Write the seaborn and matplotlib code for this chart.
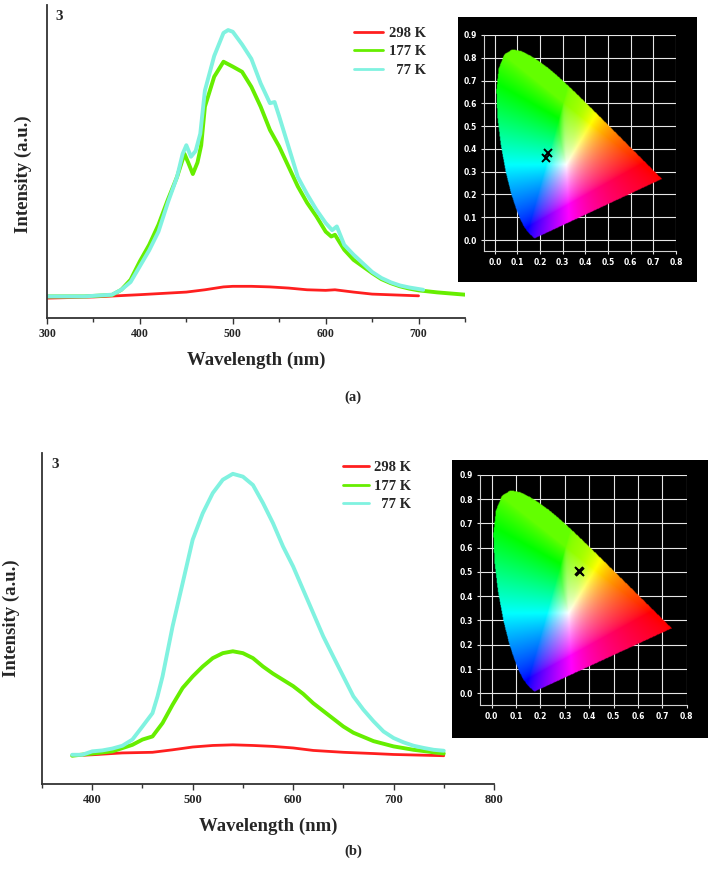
import numpy as np
import pandas as pd
import matplotlib
matplotlib.use("Agg")
import matplotlib.pyplot as plt
import seaborn as sns
from matplotlib.path import Path
from matplotlib.colors import rgb_to_hsv, hsv_to_rgb
from matplotlib.ticker import MultipleLocator

# ---- panel (a) spectra ----
wl_a_298 = [300, 350, 400, 450, 470, 490, 500, 520, 540, 560, 580, 600, 610, 630, 650, 700]
int_a_298 = [6.9, 7.3, 8.1, 9.0, 9.8, 10.8, 11.0, 11.0, 10.8, 10.4, 9.8, 9.6, 9.8, 9.0, 8.3, 7.7]

wl_a_177 = [300, 340, 370, 380, 390, 400, 410, 420, 430, 440, 448, 452, 457, 462, 466, 470,
            480, 490, 500, 510, 520, 530, 540, 550, 560, 570, 580, 590, 600, 606, 610,
            620, 630, 640, 650, 660, 670, 680, 690, 700, 720, 750]
int_a_177 = [7.5, 7.5, 8.0, 9.8, 13.3, 19.7, 25.4, 32.4, 41, 49, 57, 54, 50, 54, 60, 73.4,
             83.8, 89, 87.3, 85.5, 80.3, 73.4, 65.3, 59.5, 52.6, 45.7, 40, 35.3, 30, 28.3, 28.9,
             23.7, 20.2, 17.9, 15.6, 13.5, 12.1, 11, 10.2, 9.6, 8.9, 8.1]

wl_a_77 = [300, 340, 370, 380, 390, 400, 410, 420, 430, 440, 446, 450, 455, 460, 465, 470,
           480, 490, 495, 500, 510, 520, 530, 540, 545, 550, 560, 570, 580, 590, 600, 607, 612,
           620, 630, 640, 650, 660, 670, 680, 690, 705]
int_a_77 = [7.5, 7.5, 8.1, 9.8, 12.5, 18, 23.5, 30, 40, 49, 57, 60, 56, 58, 64, 79,
            91, 99, 100, 99.4, 95, 90, 81.5, 74.6, 75, 70, 59.5, 49, 43, 37.6, 33, 30.5, 31.8,
            25.4, 22, 19, 16, 13.9, 12.4, 11.3, 10.6, 9.8]

# ---- panel (b) spectra ----
wl_b_298 = [380, 400, 430, 460, 480, 500, 520, 540, 560, 580, 600, 620, 650, 680, 700, 750]
int_b_298 = [9.1, 9.4, 10.0, 10.2, 11.0, 11.9, 12.4, 12.6, 12.4, 12.1, 11.6, 10.8, 10.2, 9.8, 9.5, 9.1]

wl_b_177 = [380, 400, 420, 440, 450, 460, 470, 480, 490, 500, 510, 520, 530, 540, 550, 560,
            570, 580, 590, 600, 610, 620, 630, 640, 650, 660, 680, 700, 720, 750]
int_b_177 = [9.1, 9.8, 10.5, 12.6, 14.3, 15.3, 19.6, 25.5, 30.9, 34.6, 37.8, 40.5, 42.1, 42.7, 42.1, 40.5,
             37.8, 35.5, 33.5, 31.5, 29.0, 26.0, 23.5, 21.0, 18.5, 16.5, 13.8, 12.1, 11.0, 9.8]

wl_b_77 = [380, 390, 400, 410, 420, 430, 440, 445, 450, 460, 465, 470, 480, 490, 500, 510, 520,
           530, 540, 550, 560, 570, 580, 590, 600, 610, 620, 630, 640, 650, 660, 670, 680, 690,
           700, 710, 720, 730, 740, 750]
int_b_77 = [9.4, 9.4, 10.5, 10.8, 11.4, 12.3, 14.3, 16.4, 18.5, 22.8, 28.2, 34.6, 50.7, 64.6, 78.6, 87.1, 93.6,
            97.9, 99.8, 98.9, 96.2, 90.4, 83.9, 76.4, 70.0, 62.5, 55.0, 47.5, 41.0, 34.6, 28.2, 23.9, 20.2, 16.9,
            14.8, 13.4, 12.3, 11.6, 11.0, 10.7]

temps = ["298 K", "177 K", "  77 K"]
colors = {"298 K": "#ff1f1f", "177 K": "#66ee00", "  77 K": "#80f2e0"}
widths = {"298 K": 2.0, "177 K": 2.8, "  77 K": 2.8}

# ---- CIE 1931 spectral locus (x, y) and colour coordinates ----
locus_x = [0.1741, 0.1714, 0.1644, 0.1566, 0.1440, 0.1241, 0.1096, 0.0913, 0.0687, 0.0454,
           0.0235, 0.0082, 0.0039, 0.0139, 0.0389, 0.0743, 0.1142, 0.1547, 0.1929, 0.2296,
           0.2658, 0.3016, 0.3373, 0.3731, 0.4087, 0.4441, 0.4788, 0.5125, 0.5448, 0.5752,
           0.6029, 0.6270, 0.6658, 0.6915, 0.7079, 0.7190, 0.7347]
locus_y = [0.0050, 0.0051, 0.0109, 0.0177, 0.0297, 0.0578, 0.0868, 0.1327, 0.2007, 0.2950,
           0.4127, 0.5384, 0.6548, 0.7502, 0.8120, 0.8338, 0.8262, 0.8059, 0.7816, 0.7543,
           0.7243, 0.6923, 0.6589, 0.6245, 0.5896, 0.5547, 0.5202, 0.4866, 0.4544, 0.4242,
           0.3965, 0.3725, 0.3340, 0.3083, 0.2920, 0.2809, 0.2653]
cie_a_x = [0.233, 0.226]
cie_a_y = [0.380, 0.360]
cie_b_x = [0.359, 0.362]
cie_b_y = [0.504, 0.500]

sns.set_style("ticks")
plt.rcParams["font.family"] = ["Liberation Serif", "DejaVu Serif"]
plt.rcParams["font.weight"] = "bold"


def spectra_frame(wls, ints):
    rows = []
    for t, w, v in zip(temps, wls, ints):
        rows.append(pd.DataFrame({"Wavelength": w, "Intensity": v, "Temp": t}))
    return pd.concat(rows, ignore_index=True)


def spectrum_panel(ax, df, xlim, ylim, xmajor, tick_fs, leg_anchor, handle_len, ylab_xy):
    for t in temps:
        sub = df[df["Temp"] == t]
        sns.lineplot(data=sub, x="Wavelength", y="Intensity", color=colors[t],
                     linewidth=widths[t], label=t, ax=ax)
    ax.set_xlim(*xlim)
    ax.set_ylim(*ylim)
    ax.set_yticks([])
    ax.xaxis.set_major_locator(MultipleLocator(xmajor))
    ax.xaxis.set_minor_locator(MultipleLocator(50))
    ax.tick_params(axis="x", which="major", length=4, width=1, labelsize=tick_fs, color="#333333")
    ax.tick_params(axis="x", which="minor", length=3, width=1, color="#333333")
    for lab in ax.get_xticklabels():
        lab.set_fontweight("bold")
    for s in ["top", "right"]:
        ax.spines[s].set_visible(False)
    for s in ["left", "bottom"]:
        ax.spines[s].set_color("#333333")
        ax.spines[s].set_linewidth(1.3)
    ax.set_xlabel("Wavelength (nm)", fontsize=13.5, fontweight="bold", labelpad=8)
    ax.set_ylabel("Intensity (a.u.)", fontsize=13.5, fontweight="bold")
    ax.yaxis.set_label_coords(*ylab_xy)
    ax.text(0.02, 0.985, "3", transform=ax.transAxes, fontsize=11, fontweight="bold",
            va="top", ha="left")
    leg = ax.legend(loc="upper left", bbox_to_anchor=leg_anchor, frameon=False,
                    handlelength=handle_len, handletextpad=0.35, labelspacing=0.35,
                    borderaxespad=0, borderpad=0, prop={"weight": "bold", "size": 10.5})
    for line in leg.get_lines():
        line.set_linewidth(2)


def cie_image(n=360):
    gx = np.linspace(-0.05, 0.8, n)
    gy = np.linspace(-0.05, 0.9, n)
    X, Y = np.meshgrid(gx, gy)
    Ys = np.where(Y <= 1e-4, 1e-4, Y)
    xyz = np.stack([X / Ys, np.ones_like(X), (1 - X - Y) / Ys], axis=-1)
    m = np.array([[3.2406, -1.5372, -0.4986],
                  [-0.9689, 1.8758, 0.0415],
                  [0.0557, -0.2040, 1.0570]])
    rgb = xyz @ m.T
    rgb = np.clip(rgb, 0, None)
    rgb = rgb / np.maximum(rgb.max(axis=-1, keepdims=True), 1e-6)
    rgb = rgb ** (1 / 1.5)
    # nudge pure greens towards lime, as in the original picture
    hsv = rgb_to_hsv(np.clip(rgb, 0, 1))
    h = hsv[..., 0]
    hsv[..., 0] = h - 0.065 * np.exp(-((h - 0.333) / 0.08) ** 2)
    rgb = hsv_to_rgb(hsv)
    path = Path(np.column_stack([locus_x, locus_y]))
    inside = path.contains_points(np.column_stack([X.ravel(), Y.ravel()])).reshape(X.shape)
    img = np.dstack([rgb, inside.astype(float)])
    return img


def cie_panel(fig, box, inner, px, py):
    bg = fig.add_axes(box)
    bg.set_facecolor("black")
    bg.set_xticks([])
    bg.set_yticks([])
    for s in bg.spines.values():
        s.set_visible(False)
    ax = fig.add_axes(inner)
    ax.set_facecolor("black")
    ax.imshow(cie_image(), extent=(-0.05, 0.8, -0.05, 0.9), origin="lower",
              aspect="auto", interpolation="bilinear", zorder=2)
    ax.set_xlim(-0.05, 0.8)
    ax.set_ylim(-0.05, 0.9)
    ticks_x = np.round(np.arange(0, 0.81, 0.1), 1)
    ticks_y = np.round(np.arange(0, 0.91, 0.1), 1)
    ax.set_xticks(ticks_x)
    ax.set_yticks(ticks_y)
    ax.set_xticklabels([f"{t:.1f}" for t in ticks_x])
    ax.set_yticklabels([f"{t:.1f}" for t in ticks_y])
    ax.grid(True, color="#e6e6e6", linewidth=0.8, zorder=1)
    ax.set_axisbelow(True)
    ax.tick_params(colors="#e6e6e6", labelcolor="white", length=2.5, width=0.8,
                   labelsize=5.5, pad=2)
    for lab in ax.get_xticklabels() + ax.get_yticklabels():
        lab.set_family("DejaVu Sans")
        lab.set_fontweight("bold")
    for s in ax.spines.values():
        s.set_color("#d0d0d0")
        s.set_linewidth(0.8)
    ax.spines["top"].set_visible(False)
    ax.spines["right"].set_visible(False)
    ax.plot(px, py, linestyle="none", marker="x", color="black", markersize=6,
            markeredgewidth=1.4, zorder=3)


fig = plt.figure(figsize=(7.08, 8.69), dpi=100)

ax_a = fig.add_axes([47 / 708, 1 - 318 / 869, 418 / 708, 313 / 869])
spectrum_panel(ax_a, spectra_frame([wl_a_298, wl_a_177, wl_a_77], [int_a_298, int_a_177, int_a_77]),
               (300, 750), (0, 108.7), 100, 8.5, (0.735, 0.93), 2.0, (-0.036, 0.46))

ax_b = fig.add_axes([42 / 708, 1 - 784 / 869, 452 / 708, 331 / 869])
spectrum_panel(ax_b, spectra_frame([wl_b_298, wl_b_177, wl_b_77], [int_b_298, int_b_177, int_b_77]),
               (350, 800), (0, 106.5), 100, 9, (0.665, 0.975), 1.8, (-0.048, 0.5))

cie_panel(fig, [458 / 708, 1 - 282 / 869, 239 / 708, 265 / 869],
          [483.5 / 708, 1 - 251.4 / 869, 192.5 / 708, 216.4 / 869], cie_a_x, cie_a_y)
cie_panel(fig, [452 / 708, 1 - 738 / 869, 256 / 708, 278 / 869],
          [479.5 / 708, 1 - 705.4 / 869, 207.2 / 708, 230.5 / 869], cie_b_x, cie_b_y)

fig.text(353 / 708, 1 - 397 / 869, "(a)", ha="center", va="center", fontsize=10.5, fontweight="bold")
fig.text(353 / 708, 1 - 851 / 869, "(b)", ha="center", va="center", fontsize=10.5, fontweight="bold")

fig.savefig("out.png", dpi=100, facecolor="white")
